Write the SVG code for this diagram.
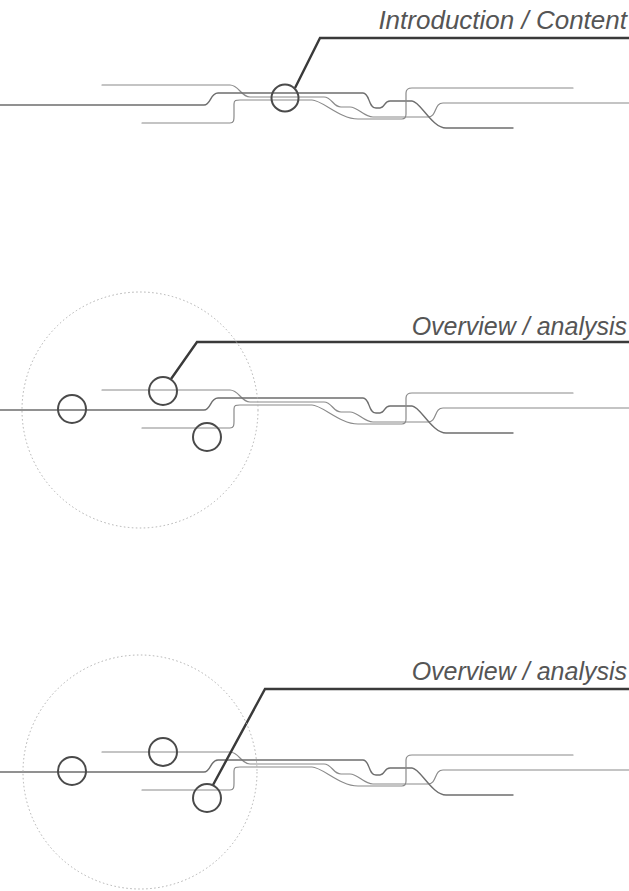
<svg xmlns="http://www.w3.org/2000/svg" xmlns:xlink="http://www.w3.org/1999/xlink" width="629" height="891" viewBox="0 0 629 891">
<style>
.track{fill:none;stroke:#8a8a8a;stroke-width:1.2;stroke-linecap:round;stroke-linejoin:round}
.main{stroke:#6e6e6e;stroke-width:1.4}
.node{fill:none;stroke:#4a4a4a;stroke-width:2}
.zone{fill:none;stroke:#b0b0b0;stroke-width:1;stroke-dasharray:1.5 2.5}
.leader{fill:none;stroke:#3a3a3a;stroke-width:2.4;stroke-linejoin:miter}
.label{font-family:"Liberation Sans",Arial,sans-serif;font-style:italic;fill:#555;text-anchor:end}
</style>
<defs>
<g id="tracks">
<path class="track" d="M102,85 H230 C239,85 241,97 250,97 H324 C332,97 333,107 341,107 H350 C358,107 364,117 373,117 H428 C437,117 434,103 443,103 H629"/>
<path class="track main" d="M0,105 H204 C211,105 210,93 218,93 H363 C370,93 368,108 376,108 H380 C385,108 384,101 390,101 H412 C420,101 432,128 446,128 H513"/>
<path class="track" d="M142,123 H230 C234,123 234,120 234,116 V104 C234,100 236,100 240,100 H312 C322,100 340,119 358,119 H402 C405,119 406,117 406,114 V93 C406,89 408,88 412,88 H573"/>
</g>
</defs>
<g id="connectors">
<use xlink:href="#tracks" href="#tracks"/>
<use xlink:href="#tracks" href="#tracks" transform="translate(0,305)"/>
<use xlink:href="#tracks" href="#tracks" transform="translate(0,667)"/>
<path class="leader" d="M295,88 L320,38 H629"/>
<path class="leader" d="M171,379 L197,342 H629"/>
<path class="leader" d="M213,785 L265,689 H629"/>
</g>
<g id="panel1">
<g id="node-intro"><circle class="node" cx="285" cy="98" r="13.5"/></g>
<text class="label" x="627" y="29" font-size="26">Introduction / Content</text>
</g>
<g id="panel2">
<g id="zone2"><circle class="zone" cx="140" cy="410" r="118"/></g>
<g id="node2a"><circle class="node" cx="72" cy="409" r="14"/></g>
<g id="node2b"><circle class="node" cx="163" cy="391" r="14"/></g>
<g id="node2c"><circle class="node" cx="207" cy="437" r="14"/></g>
<text class="label" x="627" y="335" font-size="25">Overview / analysis</text>
</g>
<g id="panel3">
<g id="zone3"><circle class="zone" cx="140" cy="772" r="117"/></g>
<g id="node3a"><circle class="node" cx="72" cy="771" r="14"/></g>
<g id="node3b"><circle class="node" cx="163" cy="752" r="14"/></g>
<g id="node3c"><circle class="node" cx="207" cy="798" r="14"/></g>
<text class="label" x="627" y="680" font-size="25">Overview / analysis</text>
</g>
</svg>
